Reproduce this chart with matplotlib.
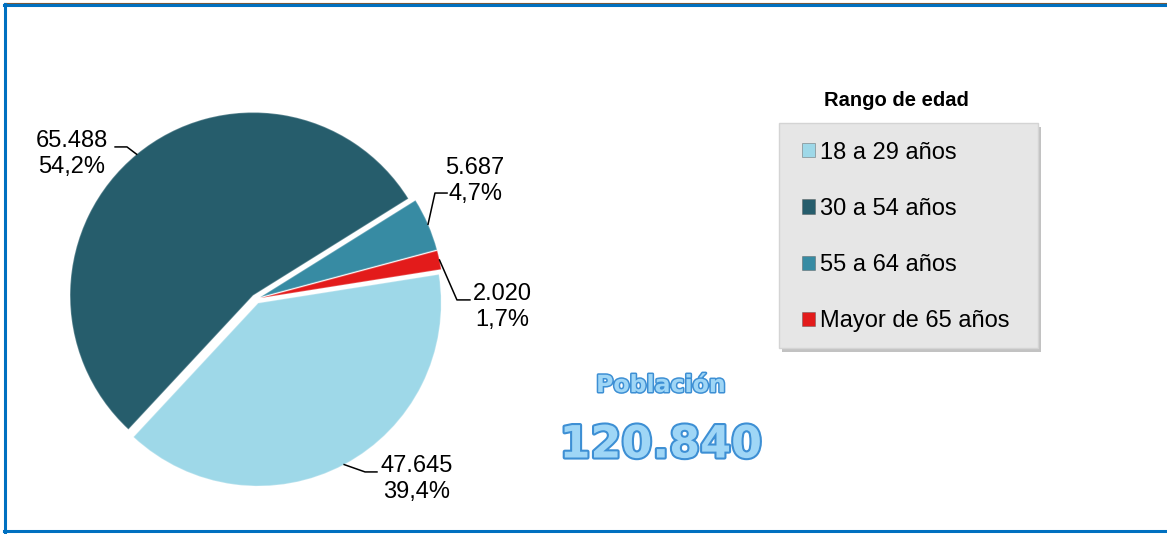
import math
import matplotlib
matplotlib.use("Agg")
import matplotlib.pyplot as plt
import matplotlib.patheffects as pe
from matplotlib.patches import Rectangle
from matplotlib.lines import Line2D

plt.rcParams['font.family'] = ['Liberation Sans', 'DejaVu Sans']

# Datos
labels = ['18 a 29 años', '30 a 54 años', '55 a 64 años', 'Mayor de 65 años']
values = [47645, 65488, 5687, 2020]
colors = ['#9ed8e8', '#265d6c', '#378ba3', '#e31b1b']
total = 120840
legend_title = 'Rango de edad'
total_title = 'Población'

W, H = 1167, 534
fig = plt.figure(figsize=(W / 100, H / 100), dpi=100)

def fx(x):
    return x / W

def fy(y):
    return 1 - y / H

# Borde del grafico
fig.add_artist(Line2D([fx(4), 1], [fy(2.5), fy(2.5)], color='#7a5a3a', lw=0.8))
fig.add_artist(Line2D([fx(4), 1], [fy(5), fy(5)], color='#0070c0', lw=2.2))
fig.add_artist(Line2D([fx(5), fx(5)], [fy(4), fy(532)], color='#0070c0', lw=2.2))
fig.add_artist(Line2D([fx(4), 1], [fy(531), fy(531)], color='#0070c0', lw=2.2))

# Pastel
cx, cy, R = 256, 299, 183
lim = 1.25
side = 2 * lim * R
ax = fig.add_axes([(cx - side / 2) / W, (H - cy - side / 2) / H, side / W, side / H])
explode = [0.025, 0.025, 0.025, 0.025]
wedges, _ = ax.pie(values, colors=colors, startangle=9, counterclock=False,
                   explode=explode, radius=1,
                   wedgeprops=dict(linewidth=1.0, edgecolor='#ffffff40'))
ax.set_xlim(-lim, lim)
ax.set_ylim(-lim, lim)
ax.set_aspect('equal')
ax.axis('off')

# Etiquetas con lineas guia (texto, codo, fin de linea)
lab_xy = [(0.880, -0.984), (-1.005, 0.792), (1.197, 0.645), (1.344, -0.044)]
elbow = [(0.596, -0.945), (-0.705, 0.831), (0.978, 0.579), (1.098, -0.005)]
line_end = [(0.661, -0.945), (-0.770, 0.831), (1.044, 0.579), (1.169, -0.005)]

for i, w in enumerate(wedges):
    a = math.radians((w.theta1 + w.theta2) / 2)
    x0 = w.center[0] + w.r * math.cos(a)
    y0 = w.center[1] + w.r * math.sin(a)
    ax.plot([x0, elbow[i][0], line_end[i][0]], [y0, elbow[i][1], line_end[i][1]],
            color='black', lw=1.1, clip_on=False)
    num = f"{values[i]:,}".replace(',', '.')
    pct = f"{100 * values[i] / total:.1f}".replace('.', ',') + '%'
    ax.text(lab_xy[i][0], lab_xy[i][1], num + '\n' + pct, ha='center', va='center',
            fontsize=17, linespacing=1.25, color='black')

# Leyenda
fig.add_artist(Rectangle((fx(782), fy(352)), 259 / W, 225 / H, facecolor='#9a9a9a',
                         edgecolor='none', alpha=0.6))
fig.add_artist(Rectangle((fx(779), fy(348)), 259 / W, 225 / H, facecolor='#e6e6e6',
                         edgecolor='#d4d4d4', lw=1))
fig.text(fx(896), fy(101), legend_title, ha='center', va='center', fontsize=14.5,
         fontweight='bold')
leg = fig.legend(wedges, labels, loc='center left', bbox_to_anchor=(fx(802), fy(237)),
                 frameon=False, fontsize=17, labelspacing=1.45, handlelength=0.55,
                 handleheight=0.55, handletextpad=0.2, borderpad=0, borderaxespad=0)
for hnd in leg.legend_handles:
    hnd.set_edgecolor('#55555580')
    hnd.set_linewidth(0.6)

# Poblacion total
fig.text(fx(661), fy(385), total_title, ha='center', va='center', fontsize=17,
         fontweight='bold', family='DejaVu Sans', color='#9fd6f6',
         path_effects=[pe.withStroke(linewidth=2.2, foreground='#3d8fd4')])
fig.text(fx(661), fy(445), f"{total:,}".replace(',', '.'), ha='center', va='center',
         fontsize=32, fontweight='bold', family='DejaVu Sans', color='#9fd6f6',
         path_effects=[pe.withStroke(linewidth=3, foreground='#3d8fd4')])

fig.savefig('out.png', dpi=100)
